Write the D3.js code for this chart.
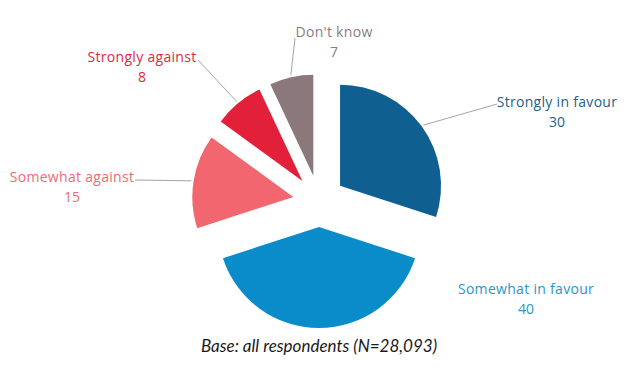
<!DOCTYPE html>
<html><head><meta charset="utf-8">
<script src="https://cdn.jsdelivr.net/npm/d3@7"></script>
<style>html,body{margin:0;padding:0;background:#fff;}</style>
</head><body>
<svg id="chart" width="640" height="380"></svg>
<script>
const categories = ["Strongly in favour", "Somewhat in favour", "Somewhat against", "Strongly against", "Don't know"];
const values = [30, 40, 15, 8, 7];
const colors = ["#0f5f91", "#0a8ccb", "#f2666f", "#e3203a", "#8a787d"];
const textColors = ["#1d5f8c", "#2a94c9", "#ef6b74", "#e0283f", "#8a7c80"];

const svg = d3.select("#chart");
const cx = 319, cy = 201, R = 101, explode = 26;

const pie = d3.pie().sort(null).value(d => d.v)(categories.map((c, i) => ({c, v: values[i], i})));
const arc = d3.arc().innerRadius(0).outerRadius(R);

const g = svg.append("g").attr("transform", `translate(${cx},${cy})`);

pie.forEach(p => {
  const mid = (p.startAngle + p.endAngle) / 2;
  p.dx = Math.sin(mid) * explode;
  p.dy = -Math.cos(mid) * explode;
  p.mid = mid;
});

g.selectAll("path.slice").data(pie).join("path")
  .attr("class", "slice")
  .attr("transform", d => `translate(${d.dx},${d.dy})`)
  .attr("d", arc)
  .attr("fill", d => colors[d.data.i]);

const labelPos = [
  {x: 557, y: 101, line: [497, 104]},
  {x: 526, y: 288, line: null},
  {x: 72, y: 176, line: [135, 180]},
  {x: 142, y: 56, line: [198, 60]},
  {x: 334, y: 31, line: [295, 38]}
];

const font = "'Open Sans', 'Noto Sans', sans-serif";
pie.forEach(p => {
  const i = p.data.i;
  const lp = labelPos[i];
  if (lp.line) {
    const ax = cx + p.dx + Math.sin(p.mid) * (R + 2);
    const ay = cy + p.dy - Math.cos(p.mid) * (R + 2);
    svg.append("line")
      .attr("x1", ax).attr("y1", ay)
      .attr("x2", lp.line[0]).attr("y2", lp.line[1])
      .attr("stroke", "#a6a6a6").attr("stroke-width", 1);
  }
  svg.append("text")
    .attr("x", lp.x).attr("y", lp.y)
    .attr("text-anchor", "middle")
    .attr("dominant-baseline", "central")
    .attr("font-family", font).attr("font-size", 14)
    .attr("letter-spacing", 0.3)
    .attr("fill", textColors[i])
    .text(categories[i]);
  svg.append("text")
    .attr("x", lp.x).attr("y", lp.y + 20)
    .attr("text-anchor", "middle")
    .attr("dominant-baseline", "central")
    .attr("font-family", font).attr("font-size", 14)
    .attr("fill", textColors[i])
    .text(values[i]);
});

svg.append("text")
  .attr("x", 319).attr("y", 345)
  .attr("text-anchor", "middle")
  .attr("dominant-baseline", "central")
  .attr("font-family", "Lato, 'Open Sans', sans-serif")
  .attr("font-style", "italic")
  .attr("font-size", 17)
  .attr("fill", "#1a1a1a")
  .text("Base: all respondents (N=28,093)");
</script>
</body></html>
